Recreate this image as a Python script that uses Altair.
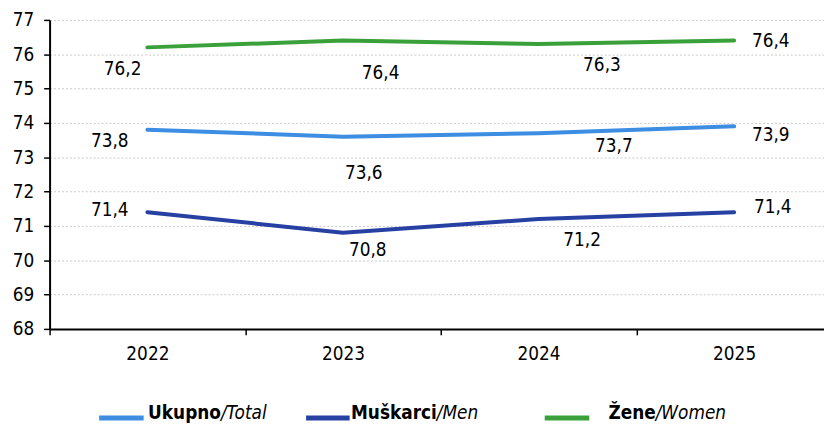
import altair as alt
import pandas as pd

years = ["2022", "2023", "2024", "2025"]
series = ["Ukupno", "Muškarci", "Žene"]
series_en = ["Total", "Men", "Women"]
total = [73.8, 73.6, 73.7, 73.9]
men = [71.4, 70.8, 71.2, 71.4]
women = [76.2, 76.4, 76.3, 76.4]
y_ticks = [68, 69, 70, 71, 72, 73, 74, 75, 76, 77]

colors = ["#3D8DE2", "#2741A3", "#3AA13A"]
FONT = "DejaVu Sans Condensed, DejaVu Sans"
FS = 19

rows = []
for name, vals in zip(series, [total, men, women]):
    for yr, v in zip(years, vals):
        rows.append({"year": yr, "series": name, "value": v,
                     "label": f"{v:.1f}".replace(".", ",")})
df = pd.DataFrame(rows)

# label offsets (dx, dy) in pixels per series / year
offsets = {
    "Ukupno": [(-38, 11), (21, 37), (76, 13), (37, 9)],
    "Muškarci": [(-38, -2), (25, 17), (44, 21), (39, -5)],
    "Žene": [(-25, 22), (38, 33), (64, 21), (37, 1)],
}

x_enc = alt.X("year:O",
              scale=alt.Scale(type="band", paddingInner=0, paddingOuter=0, range=[0, 790]),
              axis=alt.Axis(title=None, labelAngle=0, tickBand="extent", grid=False,
                            domainColor="black", domainWidth=2, tickColor="black",
                            tickWidth=1.5, tickSize=6, labelPadding=10,
                            labelFont=FONT, labelFontSize=FS, labelColor="black"))
y_enc = alt.Y("value:Q",
              scale=alt.Scale(domain=[68, 77], nice=False, zero=False),
              axis=alt.Axis(title=None, values=y_ticks, grid=True, gridColor="#c8c8c8",
                            gridDash=[2, 2], gridWidth=1, domainColor="black", domainWidth=2,
                            tickColor="black", tickWidth=1.5, tickSize=6, labelPadding=10,
                            labelOverlap=False, labelFlush=False,
                            labelFont=FONT, labelFontSize=FS, labelColor="black"))

base = alt.Chart(df)
lines = base.mark_line(strokeWidth=4, strokeCap="round").encode(
    x=x_enc, y=y_enc,
    color=alt.Color("series:N", scale=alt.Scale(domain=series, range=colors), legend=None),
    detail="series:N",
)

layers = [lines]
for name in series:
    for i, yr in enumerate(years):
        dx, dy = offsets[name][i]
        layers.append(
            base.transform_filter(
                (alt.datum.series == name) & (alt.datum.year == yr)
            ).mark_text(dx=dx, dy=dy, font=FONT, fontSize=FS, color="black",
                        align="center", baseline="middle").encode(
                x=x_enc, y=y_enc, text="label:N")
        )

# custom legend (bold Croatian name, italic English name)
one = pd.DataFrame({"k": [0]})
leg_swatch = [(50, 95), (259, 303), (500, 545)]
leg_join = [173, 391, 612]
for i in range(3):
    layers.append(alt.Chart(one).mark_rule(strokeWidth=5, color=colors[i]).encode(
        x=alt.value(leg_swatch[i][0]), x2=alt.value(leg_swatch[i][1]), y=alt.value(402)))
    layers.append(alt.Chart(one).mark_text(font=FONT, fontSize=FS, fontWeight="bold",
                                           align="right", baseline="middle", color="black").encode(
        x=alt.value(leg_join[i]), y=alt.value(397), text=alt.value(series[i])))
    layers.append(alt.Chart(one).mark_text(font=FONT, fontSize=FS, fontStyle="italic",
                                           align="left", baseline="middle", color="black").encode(
        x=alt.value(leg_join[i]), y=alt.value(397), text=alt.value("/" + series_en[i])))

chart = alt.layer(*layers).properties(
    width=782, height=312,
    autosize=alt.AutoSizeParams(type="none"),
    padding={"left": 42, "top": 10, "right": 0, "bottom": 95},
).configure_view(stroke=None)

chart.save("out.html", embed_options={"renderer": "svg", "actions": False})
